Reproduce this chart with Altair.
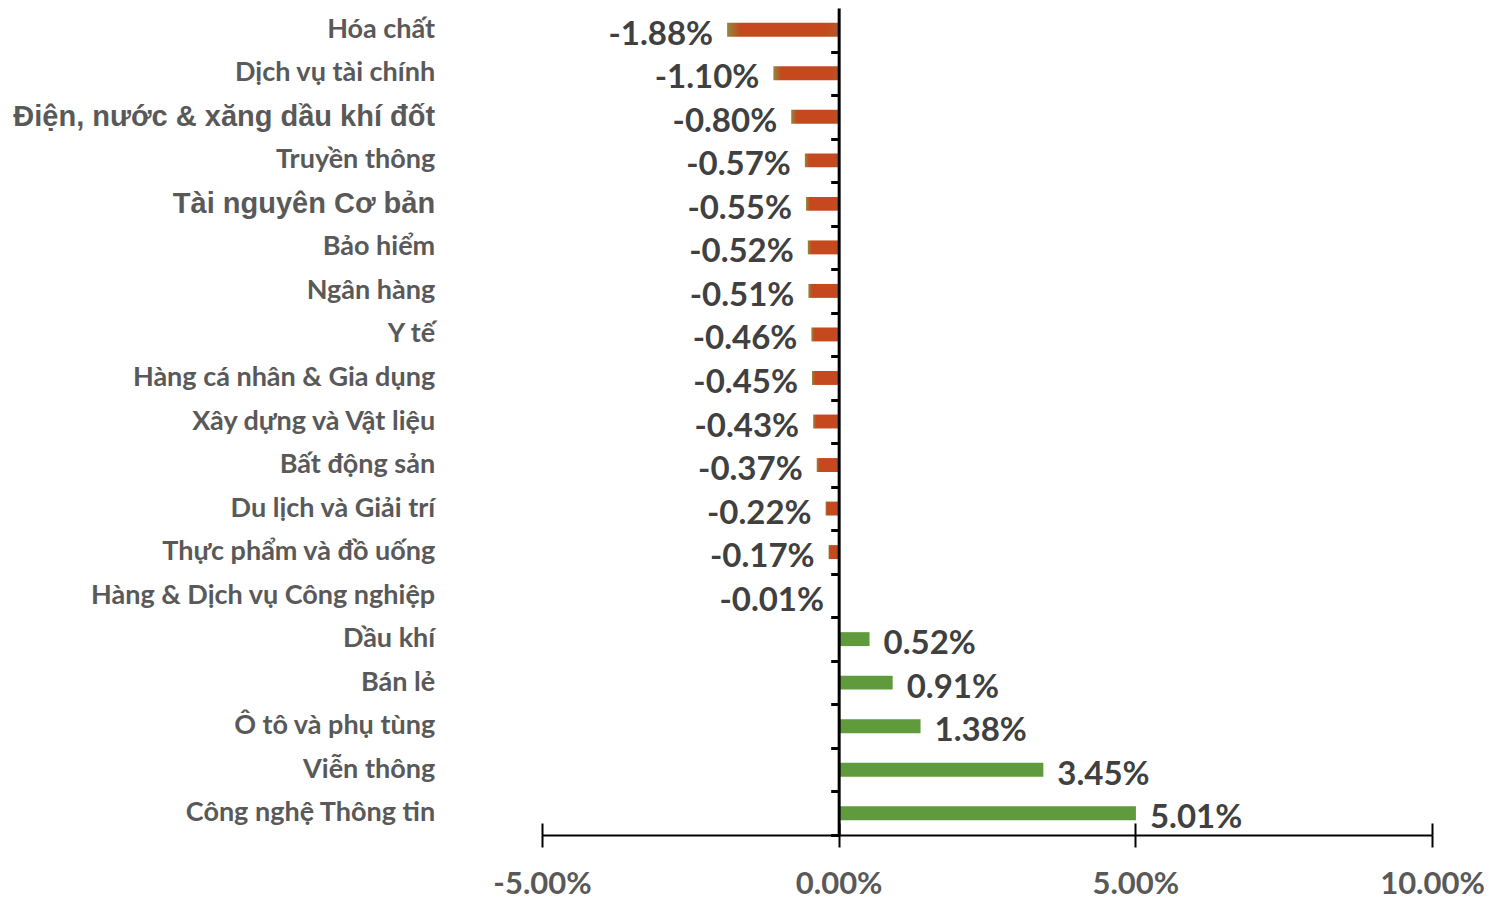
import altair as alt
import pandas as pd

categories = [
    "Hóa chất", "Dịch vụ tài chính", "Điện, nước & xăng dầu khí đốt", "Truyền thông",
    "Tài nguyên Cơ bản", "Bảo hiểm", "Ngân hàng", "Y tế", "Hàng cá nhân & Gia dụng",
    "Xây dựng và Vật liệu", "Bất động sản", "Du lịch và Giải trí", "Thực phẩm và đồ uống",
    "Hàng & Dịch vụ Công nghiệp", "Dầu khí", "Bán lẻ", "Ô tô và phụ tùng", "Viễn thông",
    "Công nghệ Thông tin",
]
values = [-1.88, -1.10, -0.80, -0.57, -0.55, -0.52, -0.51, -0.46, -0.45, -0.43,
          -0.37, -0.22, -0.17, -0.01, 0.52, 0.91, 1.38, 3.45, 5.01]
x_ticks = [-5, 0, 5, 10]
big_labels = ["Điện, nước & xăng dầu khí đốt", "Tài nguyên Cơ bản"]

df = pd.DataFrame({"cat": categories, "val": values})
df["label"] = [f"{v:.2f}%" for v in values]

W = 890
H = 827
STEP = H / len(categories)
xscale = alt.Scale(domain=[-5, 10], nice=False, zero=False)
yscale = alt.Scale(paddingInner=0.68, paddingOuter=0.34)

big_test = "indexof(" + str(big_labels).replace('"', "'") + ", datum.value) >= 0"

y_label_axis = alt.Axis(
    orient="left", offset=-W / 3, title=None, grid=False,
    domain=False, ticks=False, labelPadding=404, labelLimit=0,
    labelColor="#595959", labelFontWeight="bold",
    labelFont={"condition": {"test": big_test, "value": "Liberation Sans"}, "value": "Lato"},
    labelFontSize={"condition": {"test": big_test, "value": 29}, "value": 27},
)
y_line_axis = alt.Axis(
    orient="left", offset=-W / 3, title=None, grid=False, labels=False,
    domainColor="black", domainWidth=3, tickColor="black", tickWidth=3, tickSize=8,
    bandPosition=0.5, tickOffset=STEP / 2, zindex=2,
)
x_axis = alt.Axis(
    orient="bottom", values=x_ticks, title=None, grid=False,
    labelExpr="replace(format(datum.value, '.2f'), '\u2212', '-') + '%'",
    domainColor="black", domainWidth=2, tickColor="black", tickWidth=2, tickSize=12,
    labelFont="Lato", labelFontSize=31, labelFontWeight="bold", labelColor="#595959",
    labelPadding=22, labelFlush=False, labelOverlap=False,
)

base = alt.Chart(df)
Y = alt.Y("cat:N", sort=categories, scale=yscale, axis=y_label_axis)

neg_grad = alt.Gradient(
    gradient="linear", x1=0, x2=1, y1=0, y2=0,
    stops=[
        alt.GradientStop(offset=0, color="#8f8a3a"),
        alt.GradientStop(offset=0.12, color="#c6481f"),
        alt.GradientStop(offset=0.88, color="#c6481f"),
        alt.GradientStop(offset=1, color="#b35a28"),
    ],
)

neg_bars = base.transform_filter("datum.val < 0").mark_bar(color=neg_grad).encode(
    x=alt.X("val:Q", scale=xscale, axis=x_axis), x2=alt.datum(0), y=Y
)
pos_bars = base.transform_filter("datum.val >= 0").mark_bar(color="#5f9b3c").encode(
    x=alt.X("val:Q", scale=xscale, axis=x_axis), x2=alt.datum(0), y=Y
)
neg_text = base.transform_filter("datum.val < 0").mark_text(
    align="right", baseline="middle", dx=-14, dy=5, font="Lato", fontSize=33,
    fontWeight="bold", color="#404040"
).encode(x=alt.X("val:Q", scale=xscale, axis=x_axis), y=Y, text="label:N")
pos_text = base.transform_filter("datum.val >= 0").mark_text(
    align="left", baseline="middle", dx=14, dy=5, font="Lato", fontSize=33,
    fontWeight="bold", color="#404040"
).encode(x=alt.X("val:Q", scale=xscale, axis=x_axis), y=Y, text="label:N")

main = alt.layer(neg_bars, pos_bars, neg_text, pos_text)

top_ticks = base.mark_point(opacity=0).encode(
    x=alt.X("val:Q", scale=xscale, axis=alt.Axis(
        orient="top", offset=-H, values=x_ticks, labels=False, domain=False, grid=False,
        title=None, tickColor="black", tickWidth=2, tickSize=12)),
    y=alt.Y("cat:N", sort=categories, scale=yscale, axis=y_line_axis),
)

chart = alt.layer(main, top_ticks).resolve_scale(x="independent").resolve_axis(
    y="independent"
).properties(
    width=W, height=H,
    autosize=alt.AutoSizeParams(type="none"),
    padding={"left": 534, "top": 0, "right": 70, "bottom": 80},
    background="white",
).configure_view(stroke=None)

chart.save("out.html", embed_options={"renderer": "svg", "actions": False})
